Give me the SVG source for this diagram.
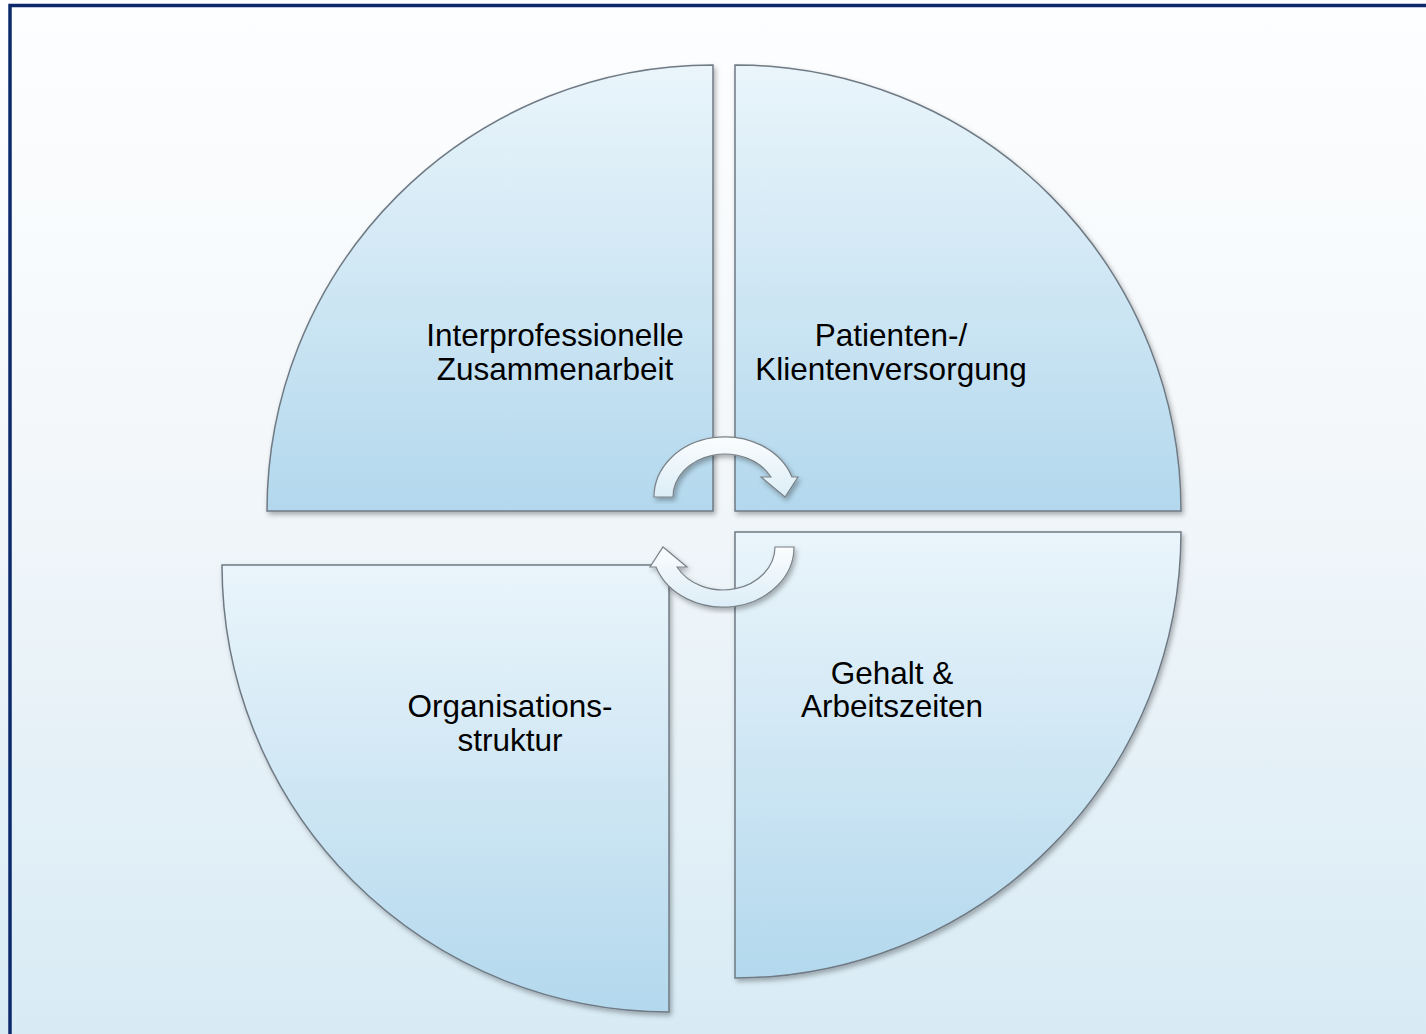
<svg xmlns="http://www.w3.org/2000/svg" width="1426" height="1034" viewBox="0 0 1426 1034">
  <style>
    .piece { fill: url(#pieceGrad); stroke: #6f7a84; stroke-width: 1.5; filter: url(#shadow); }
    .arrow { fill: url(#arrowGrad); stroke: #7a8288; stroke-width: 1.2; filter: url(#shadow); }
    .label { font-family: "Liberation Sans", Arial, sans-serif; font-size: 31.5px; fill: #000; text-anchor: middle; }
  </style>
  <defs>
    <linearGradient id="bgGrad" x1="0" y1="0" x2="0" y2="1">
      <stop offset="0" stop-color="#fdfeff"/>
      <stop offset="0.45" stop-color="#f3f7fa"/>
      <stop offset="1" stop-color="#d8ebf5"/>
    </linearGradient>
    <linearGradient id="pieceGrad" x1="0" y1="0" x2="0" y2="1">
      <stop offset="0" stop-color="#eaf5fb"/>
      <stop offset="1" stop-color="#b3d8ed"/>
    </linearGradient>
    <linearGradient id="arrowGrad" x1="0" y1="0" x2="0" y2="1">
      <stop offset="0" stop-color="#fbfdfe"/>
      <stop offset="1" stop-color="#dcedf7"/>
    </linearGradient>
    <filter id="shadow" x="-10%" y="-10%" width="120%" height="120%">
      <feDropShadow dx="2" dy="3" stdDeviation="2.5" flood-color="#000" flood-opacity="0.3"/>
    </filter>
  </defs>

  <rect x="0" y="0" width="1426" height="1034" fill="url(#bgGrad)"/>
  <rect x="10" y="5.5" width="1440" height="1060" fill="none" stroke="#0c2a6b" stroke-width="3.5"/>

  <g id="node-interprofessionelle">
    <path class="piece" d="M 713 511 L 267 511 A 446 446 0 0 1 713 65 Z"/>
    <text class="label" x="555" y="346">Interprofessionelle</text>
    <text class="label" x="555" y="380">Zusammenarbeit</text>
  </g>

  <g id="node-patienten">
    <path class="piece" d="M 735 511 L 735 65 A 446 446 0 0 1 1181 511 Z"/>
    <text class="label" x="891" y="346">Patienten-/</text>
    <text class="label" x="891" y="380">Klientenversorgung</text>
  </g>

  <g id="node-gehalt">
    <path class="piece" d="M 735 532 L 1181 532 A 446 446 0 0 1 735 978 Z"/>
    <text class="label" x="892" y="684">Gehalt &amp;</text>
    <text class="label" x="892" y="717">Arbeitszeiten</text>
  </g>

  <g id="node-organisation">
    <path class="piece" d="M 669 565 L 669 1012 A 447 447 0 0 1 222 565 Z"/>
    <text class="label" x="510" y="717">Organisations-</text>
    <text class="label" x="510" y="751">struktur</text>
  </g>

  <g id="connectors">
    <path class="arrow" d="M 654 497 A 71 60 0 0 1 792 477 L 798 477 L 785 497 L 761 477 L 771 477 A 52 43 0 0 0 673 497 Z"/>
    <path class="arrow" d="M 794 547 A 71 60 0 0 1 656 567 L 650 567 L 663 547 L 687 567 L 677 567 A 52 43 0 0 0 775 547 Z"/>
  </g>
</svg>
